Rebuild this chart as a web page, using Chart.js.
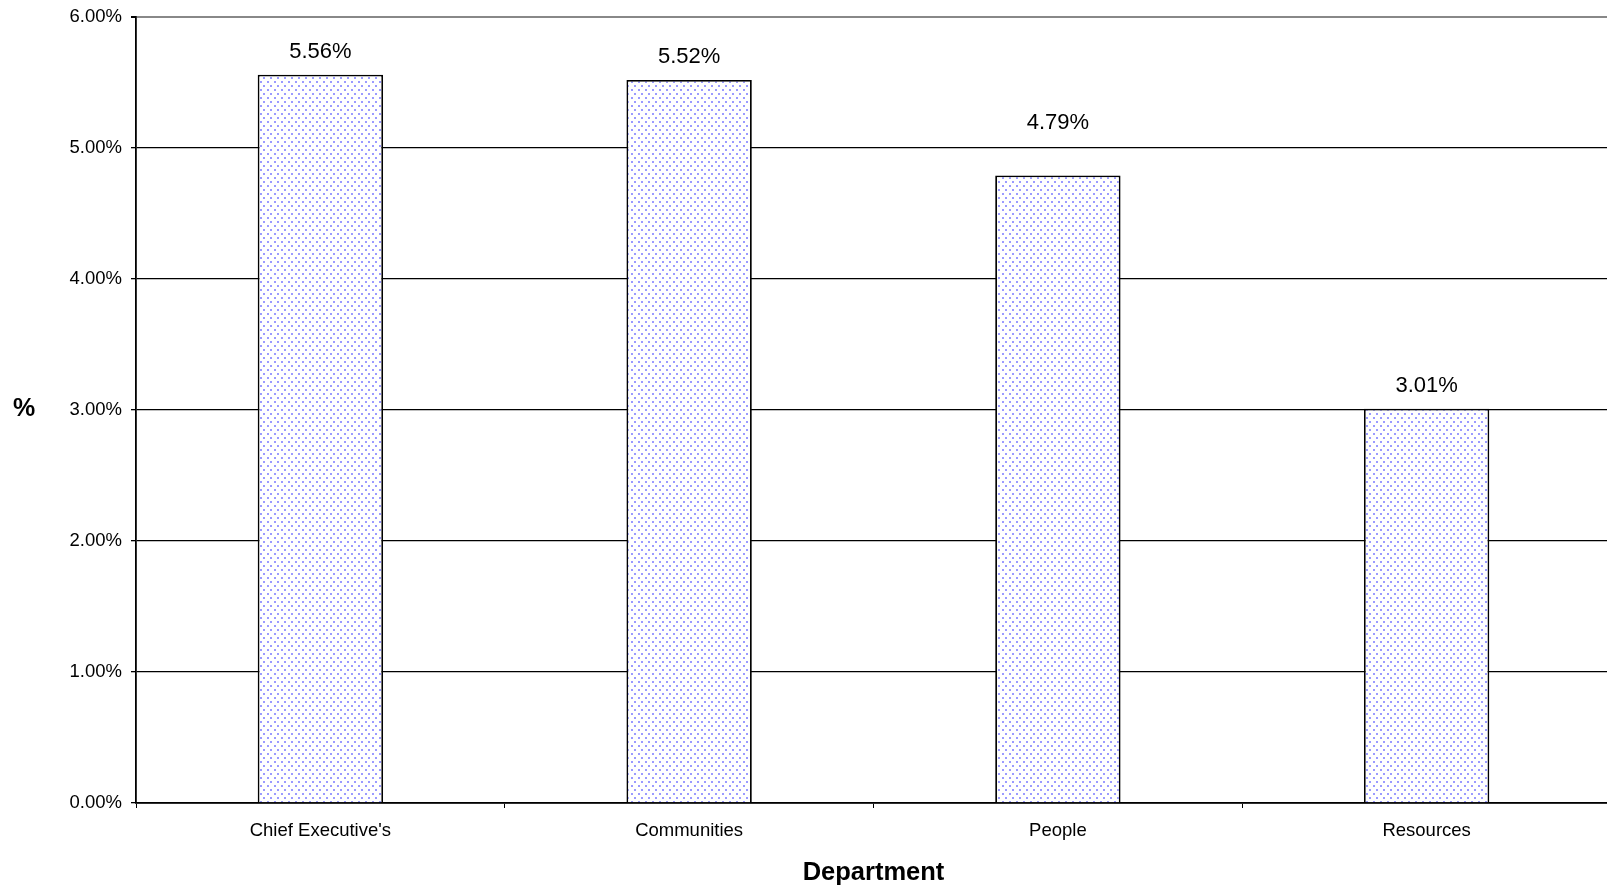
<!DOCTYPE html>
<html>
<head>
<meta charset="utf-8">
<script src="https://cdn.jsdelivr.net/npm/chart.js@4/dist/chart.umd.min.js"></script>
<style>
  html, body { margin: 0; padding: 0; background: #fff; overflow: hidden; }
  /* plot area runs slightly past the right edge of the picture */
  #wrap { width: 1611px; height: 889px; }
</style>
</head>
<body>
<div id="wrap"><canvas id="deptChart"></canvas></div>
<script>
// Data
const departments = ["Chief Executive's", 'Communities', 'People', 'Resources'];
const rates = [5.56, 5.52, 4.79, 3.01];
const yTicks = [0, 1, 2, 3, 4, 5, 6];

// how far above each bar its value label sits (the People label is lifted clear of the 5% line)
const labelLift = [23, 23, 53, 23];

const FONT = "'Liberation Sans', Arial, sans-serif";

// dotted fill like the old Excel pattern
function dotPattern() {
    const c = document.createElement('canvas');
    c.width = 7;
    c.height = 8;
    const g = c.getContext('2d');
    g.fillStyle = '#fff';
    g.fillRect(0, 0, 7, 8);
    g.fillStyle = 'rgba(130,130,255,0.8)';
    g.fillRect(1, 1, 2, 2);
    g.fillRect(4, 5, 2, 2);
    return g.createPattern(c, 'repeat');
}

// value labels above bars + the horizontal "%" axis title
const labelsPlugin = {
    id: 'labels',
    afterDatasetsDraw(chart) {
        const ctx = chart.ctx;
        ctx.save();
        ctx.fillStyle = '#000';
        ctx.textAlign = 'center';
        ctx.textBaseline = 'middle';
        ctx.font = '22px ' + FONT;
        chart.getDatasetMeta(0).data.forEach((bar, i) => {
            ctx.fillText(rates[i].toFixed(2) + '%', bar.x, bar.y - labelLift[i]);
        });
        ctx.font = 'bold 25px ' + FONT;
        ctx.fillText('%', 24, 409);
        ctx.restore();
    }
};

const ctx = document.getElementById('deptChart').getContext('2d');
new Chart(ctx, {
    type: 'bar',
    data: {
        labels: departments,
        datasets: [{
            data: rates,
            backgroundColor: dotPattern(),
            borderColor: '#000',
            borderWidth: 1.8,
            borderSkipped: 'bottom',
            categoryPercentage: 1,
            barPercentage: 0.34,
        }],
    },
    options: {
        responsive: true,
        maintainAspectRatio: false,
        animation: false,
        layout: {
            padding: { top: 17, right: 0, left: 0, bottom: 0 },
        },
        plugins: {
            legend: { display: false },
            tooltip: { enabled: false },
        },
        scales: {
            x: {
                afterFit(scale) {
                    scale.height = 86;
                    scale.paddingLeft = 0;
                    scale.paddingRight = 0;
                },
                grid: {
                    offset: true,
                    drawOnChartArea: false,
                    drawTicks: true,
                    tickLength: 5,
                    color: '#000',
                },
                border: { display: true, color: '#000', width: 1.8 },
                ticks: {
                    color: '#000',
                    font: { family: FONT, size: 18.5 },
                    padding: 12,
                    maxRotation: 0,
                },
                title: {
                    display: true,
                    text: 'Department',
                    color: '#000',
                    font: { family: FONT, size: 25.5, weight: 'bold' },
                    padding: { top: 0, bottom: 1 },
                },
            },
            y: {
                min: 0,
                max: 6,
                afterFit(scale) {
                    scale.width = 136;
                    scale.paddingTop = 0;
                    scale.paddingBottom = 0;
                },
                afterBuildTicks(scale) {
                    scale.ticks = yTicks.map(v => ({ value: v }));
                },
                grid: {
                    color: c => (c.tick && c.tick.value === 6 ? '#888' : '#000'),
                    tickColor: '#000',
                    lineWidth: c => (c.tick && c.tick.value === 6 ? 2 : 1.3),
                    drawTicks: true,
                    tickLength: 5,
                },
                border: { display: true, color: '#000', width: 1.8 },
                ticks: {
                    color: '#000',
                    font: { family: FONT, size: 18.5 },
                    padding: 9,
                    callback: v => v.toFixed(2) + '%',
                },
            },
        },
    },
    plugins: [labelsPlugin],
});
</script>
</body>
</html>
